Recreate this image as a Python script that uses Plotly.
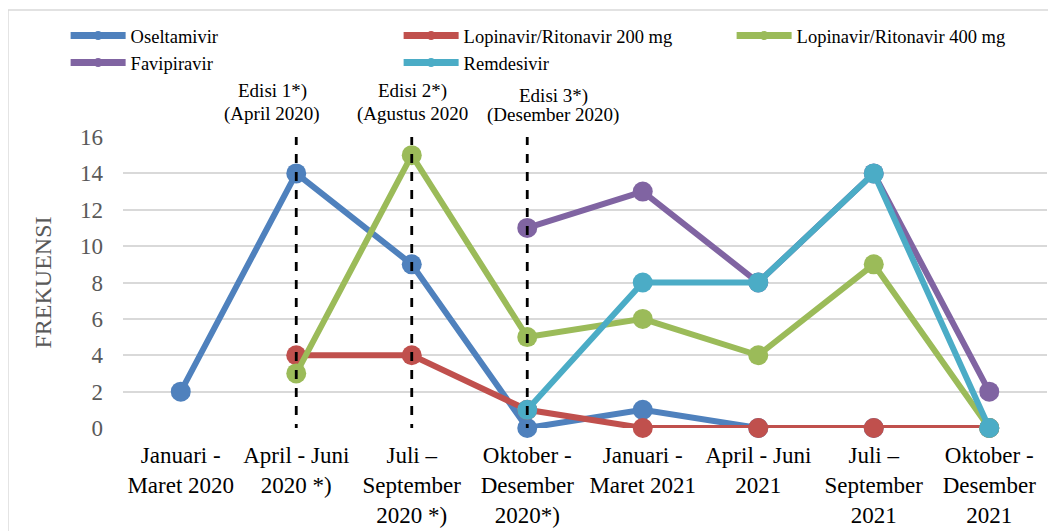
import plotly.graph_objects as go

categories = [
    "Januari -<br>Maret 2020",
    "April - Juni<br>2020 *)",
    "Juli –<br>September<br>2020 *)",
    "Oktober -<br>Desember<br>2020*)",
    "Januari -<br>Maret 2021",
    "April - Juni<br>2021",
    "Juli –<br>September<br>2021",
    "Oktober -<br>Desember<br>2021",
]
oseltamivir = [2, 14, 9, 0, 1, 0, 0, 0]
lopinavir_200 = [None, 4, 4, 1, 0, 0, 0, 0]
lopinavir_400 = [None, 3, 15, 5, 6, 4, 9, 0]
favipiravir = [None, None, None, 11, 13, 8, 14, 2]
remdesivir = [None, None, None, 1, 8, 8, 14, 0]

series = [
    ("Oseltamivir", oseltamivir, "#4F81BD"),
    ("Lopinavir/Ritonavir 200 mg", lopinavir_200, "#C0504D"),
    ("Lopinavir/Ritonavir 400 mg", lopinavir_400, "#9BBB59"),
    ("Favipiravir", favipiravir, "#8064A2"),
    ("Remdesivir", remdesivir, "#4BACC6"),
]

edisi_idx = [1, 2, 3]
edisi_line1 = ["Edisi 1*)", "Edisi 2*)", "Edisi 3*)"]
edisi_line2 = ["(April 2020)", "(Agustus 2020", "(Desember 2020)"]

FONT = "Liberation Serif, Times New Roman, serif"

fig = go.Figure()
# legend entries (small marker on a thick line, as in the original legend)
for name, vals, color in series:
    fig.add_trace(go.Scatter(
        x=[None], y=[None], name=name, mode="lines+markers", legendgroup=name,
        line=dict(color=color, width=7), marker=dict(color=color, size=9),
        showlegend=True, hoverinfo="skip",
    ))
for name, vals, color in series:
    fig.add_trace(go.Scatter(
        x=list(range(len(categories))), y=vals, name=name, mode="lines+markers",
        legendgroup=name, showlegend=False,
        line=dict(color=color, width=6), marker=dict(color=color, size=20),
        cliponaxis=False, connectgaps=False,
    ))

shapes = []
for i, idx in enumerate(edisi_idx):
    shapes.append(dict(type="line", xref="x", yref="y", x0=idx, x1=idx,
                       y0=16.05, y1=(-0.9 if i == 2 else -0.1),
                       line=dict(color="black", width=2.8, dash="dash"), layer="above"))
# outer chart border
shapes.append(dict(type="rect", xref="paper", yref="paper", x0=-0.1245, x1=1.02,
                   y0=-0.4, y1=1.436, line=dict(color="#D9D9D9", width=1.5), layer="below"))
fig.update_layout(shapes=shapes)

ann_x = [272, 412, 553]
ann_y1 = [91, 91, 96]
ann_y2 = [114, 114, 115]
for i, idx in enumerate(edisi_idx):
    fig.add_annotation(xref="paper", yref="paper", x=(ann_x[i] - 123) / 924,
                       y=(428 - ann_y1[i]) / 291, text=edisi_line1[i], showarrow=False,
                       font=dict(family=FONT, size=19, color="black"),
                       xanchor="center", yanchor="middle")
    fig.add_annotation(xref="paper", yref="paper", x=(ann_x[i] - 123) / 924,
                       y=(428 - ann_y2[i]) / 291, text=edisi_line2[i], showarrow=False,
                       font=dict(family=FONT, size=19, color="black"),
                       xanchor="center", yanchor="middle")

fig.update_layout(
    width=1048, height=523,
    margin=dict(l=115, r=9, t=129, b=103, autoexpand=False),
    paper_bgcolor="white", plot_bgcolor="white",
    font=dict(family=FONT, color="#595959"),
    showlegend=True,
    legend=dict(orientation="h", x=-0.0621, y=1.4126, xanchor="left", yanchor="top",
                entrywidth=263, entrywidthmode="pixels",
                font=dict(family=FONT, size=18.5, color="black"),
                bgcolor="rgba(0,0,0,0)", itemwidth=55, tracegroupgap=0,
                itemclick=False, itemdoubleclick=False),
    xaxis=dict(range=[-0.5, 7.5], tickmode="array", tickvals=list(range(len(categories))),
               ticktext=categories, showgrid=False, zeroline=False, showline=False,
               ticks="", ticklabelstandoff=11,
               tickfont=dict(family=FONT, size=23, color="black")),
    yaxis=dict(range=[0, 16], dtick=2, showgrid=True, gridcolor="#D9D9D9", gridwidth=1.5,
               zeroline=False, showline=False, ticks="", ticklabelstandoff=19,
               tickfont=dict(family=FONT, size=23, color="#595959"),
               title=dict(text="FREKUENSI", font=dict(family=FONT, size=24, color="#595959"),
                          standoff=21)),
)

fig.write_html("out.html")
